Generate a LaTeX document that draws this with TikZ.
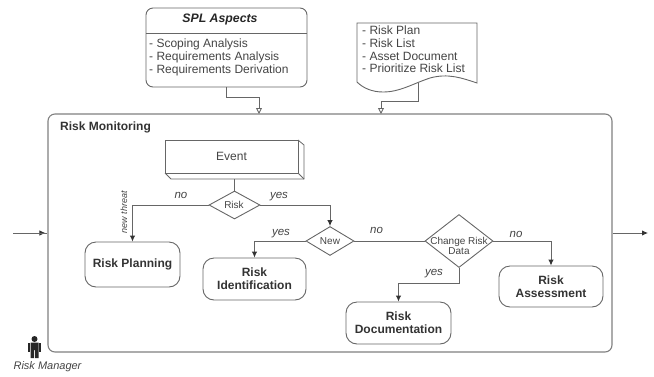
\documentclass[tikz,border=0pt]{standalone}
\usepackage{fontspec}
\setmainfont{Liberation Sans}
\usepackage{tikz}
\usetikzlibrary{arrows.meta,shapes.geometric}
\definecolor{linegray}{HTML}{666666}
\definecolor{textgray}{HTML}{444444}
\tikzset{
	task/.style={draw=linegray, line width=0.9pt, rounded corners=11pt, align=center, inner sep=0pt, text=black!80, font=\fontsize{12}{12.8}\selectfont\bfseries},
	gate/.style={draw=linegray, line width=0.9pt, diamond, inner sep=0pt, align=center, text=textgray},
	flow/.style={draw=linegray, line width=0.9pt, -{Latex[length=6pt,width=5.5pt,black!80]}},
	feed/.style={draw=linegray, line width=0.9pt, -{Triangle[open,length=6pt,width=6pt]}},
	tag/.style={inner sep=0pt, text=textgray, font=\fontsize{11.5}{13}\selectfont\itshape},
	list/.style={inner sep=0pt, align=left, anchor=north west, text=textgray, font=\fontsize{12}{12.6}\selectfont}
}
\begin{document}
\begin{tikzpicture}[x=1pt,y=-1pt]
	\useasboundingbox (0,0) rectangle (654,376);

	% Outer process box
	\node[draw=black!50, line width=1.1pt, rounded corners=7pt, minimum width=564pt, minimum height=238pt, inner sep=0pt] (monitor) at (330,233) {};
	\node[inner sep=0pt, anchor=west, text=black!80, font=\fontsize{12}{13}\selectfont\bfseries] (monitorlabel) at (60,127) {Risk Monitoring};

	% Inputs on top
	\node[draw=linegray, line width=0.9pt, rounded corners=7pt, minimum width=161pt, minimum height=79pt, inner sep=0pt] (spl) at (226.5,47.5) {};
	\draw[draw=linegray, line width=0.9pt] (146,33) -- (307,33);
	\node[inner sep=0pt, text=black!85, font=\fontsize{12.3}{13}\selectfont\bfseries\itshape] (spltitle) at (220,19.5) {SPL Aspects};
	\node[list] (spllist) at (149,39) {- Scoping Analysis\\- Requirements Analysis\\- Requirements Derivation};

	\draw[draw=linegray, line width=0.9pt, fill=white] (357,23) -- (477,23) -- (477,83) .. controls (462,78) and (448,73) .. (430,78) .. controls (412,84) and (400,92) .. (383,92) .. controls (372,92) and (363,88) .. (357,82) -- cycle;
	\node[list] (doclist) at (362,26) {- Risk Plan\\- Risk List\\- Asset Document\\- Prioritize Risk List};
	\coordinate (docout) at (418,83);

	\coordinate (inspl) at (259,114);
	\coordinate (indoc) at (381,114);
	\draw[feed] (spl.south) -- ++(0,9.5) -| (inspl);
	\draw[feed] (docout) -- ++(0,18) -| (indoc);

	% Event with raised edge
	\draw[draw=linegray, line width=0.8pt, fill=white] (298,140) -- (304,145) -- (304,179) -- (171,179) -- (165,173);
	\draw[draw=linegray, line width=0.8pt] (298,173) -- (304,179);
	\node[draw=linegray, line width=1pt, fill=white, minimum width=133pt, minimum height=33pt, inner sep=0pt, text=textgray, font=\fontsize{12}{13}\selectfont] (event) at (231.5,156.5) {Event};
	\coordinate (eventout) at (234.5,179);

	% Decisions
	\node[gate, minimum width=51pt, minimum height=28pt] (risk) at (234.5,205) {};
	\node[inner sep=0pt, text=textgray, font=\fontsize{10}{11}\selectfont] (risklabel) at (234,205) {Risk};
	\node[gate, minimum width=48pt, minimum height=29pt] (new) at (330,241) {};
	\node[inner sep=0pt, text=textgray, font=\fontsize{10}{11}\selectfont] (newlabel) at (330,241) {New};
	\node[gate, minimum width=68pt, minimum height=53pt] (change) at (459,241) {};
	\node[inner sep=0pt, align=center, text=textgray, font=\fontsize{10}{10.2}\selectfont] (changelabel) at (459,246) {Change Risk\\Data};

	% Tasks
	\node[task, minimum width=95pt, minimum height=45pt] (planning) at (132.5,264.5) {Risk Planning};
	\node[task, minimum width=103pt, minimum height=42pt] (identification) at (254.5,279) {Risk\\Identification};
	\node[task, minimum width=105pt, minimum height=42pt] (documentation) at (398.5,323) {Risk\\Documentation};
	\node[task, minimum width=104pt, minimum height=41pt] (assessment) at (551,286.5) {Risk\\Assessment};

	% Connectors
	\draw[draw=linegray, line width=0.9pt] (eventout) -- (risk.north);
	\draw[flow] (risk.west) -| (planning.north);
	\draw[flow] (risk.east) -| (new.north);
	\draw[flow] (new.west) -| (identification.north);
	\draw[draw=linegray, line width=0.9pt] (new.east) -- (change.west);
	\draw[flow] (change.east) -| (assessment.north);
	\draw[flow] (change.south) -- ++(0,15) -| (documentation.north);

	% Side arrows
	\coordinate (leftend) at (13,233);
	\coordinate (rightend) at (648,233);
	\draw[flow] (leftend) -- ([xshift=-2pt]monitor.west);
	\draw[draw=linegray, line width=0.9pt] (leftend) -- (monitor.west);
	\draw[flow] (monitor.east) -- (rightend);

	% Edge labels
	\node[tag] (nolabela) at (181,195) {no};
	\node[tag] (yeslabela) at (279,197) {yes};
	\node[tag] (yeslabelb) at (281,234) {yes};
	\node[tag] (nolabelb) at (376.5,230) {no};
	\node[tag] (yeslabelc) at (434,274) {yes};
	\node[tag] (nolabelc) at (516,234) {no};
	\node[tag, rotate=90, font=\fontsize{9}{10}\selectfont\itshape] (threat) at (124,212) {new threat};

	% Actor
	\fill[black!85] (34.5,339) circle (3pt);
	\fill[black!85] (30.5,342.5) -- (38.5,342.5) -- (38.5,358) -- (35,358) -- (35,350) -- (34,350) -- (34,358) -- (30.5,358) -- cycle;
	\fill[black!85] (28,343) rectangle (29.8,352);
	\fill[black!85] (39.2,343) rectangle (41,352);
	\node[inner sep=0pt, text=textgray, font=\fontsize{11}{12}\selectfont\itshape] (actor) at (47.5,367) {Risk Manager};
\end{tikzpicture}
\end{document}
